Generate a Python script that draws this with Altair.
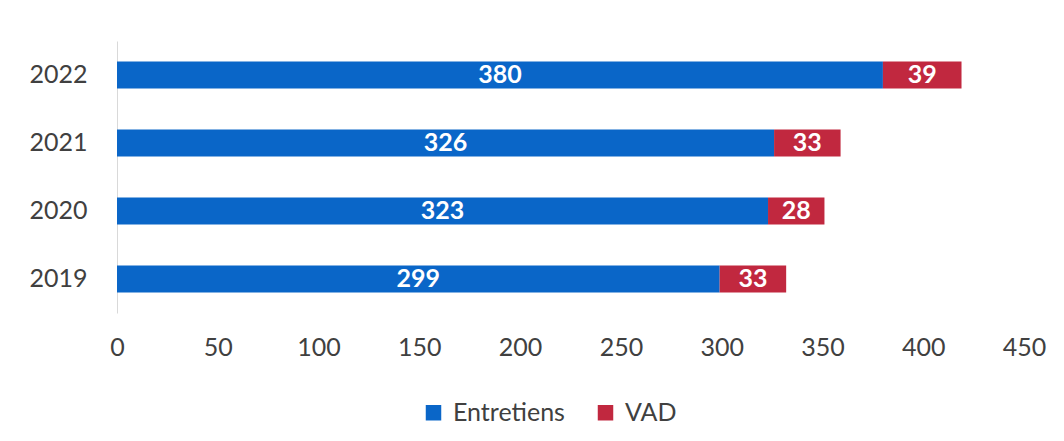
import altair as alt
import pandas as pd

years = ["2022", "2021", "2020", "2019"]
entretiens = [380, 326, 323, 299]
vad = [39, 33, 28, 33]
series = ["Entretiens", "VAD"]
colors = ["#0a66c8", "#c1283f"]

rows = []
for y, e, v in zip(years, entretiens, vad):
    rows.append({"year": y, "serie": "Entretiens", "value": e, "ord": 0})
    rows.append({"year": y, "serie": "VAD", "value": v, "ord": 1})
df = pd.DataFrame(rows)

FONT = "Lato"
FS = 25

base = alt.Chart(df).transform_stack(
    stack="value", groupby=["year"], as_=["x0", "x1"],
    sort=[alt.SortField("ord", order="ascending")]
).transform_calculate(mid="(datum.x0 + datum.x1) / 2")

yenc = alt.Y("year:N", sort=years, title=None,
             scale=alt.Scale(paddingInner=0.6, paddingOuter=0.3),
             axis=alt.Axis(labelFont=FONT, labelFontSize=FS, labelColor="#404040",
                           ticks=False, labelPadding=30, domainColor="#d9d9d9",
                           domainWidth=1))

bars = base.mark_bar().encode(
    x=alt.X("x0:Q", title=None,
            scale=alt.Scale(domain=[0, 450], nice=False),
            axis=alt.Axis(values=list(range(0, 451, 50)), labelFont=FONT,
                          labelFontSize=FS, labelColor="#404040", grid=False,
                          domain=False, ticks=False, labelPadding=22,
                          labelFlush=False)),
    x2="x1:Q",
    y=yenc,
    color=alt.Color("serie:N", scale=alt.Scale(domain=series, range=colors),
                    legend=alt.Legend(title=None, orient="none", direction="horizontal",
                                      legendX=304, legendY=359, symbolType="square",
                                      symbolSize=240, symbolStrokeWidth=0,
                                      labelFont=FONT, labelFontSize=FS,
                                      labelColor="#404040", columnPadding=28,
                                      labelOffset=7)),
)

labels = base.mark_text(font=FONT, fontSize=FS, fontWeight="bold", color="white",
                        baseline="middle", align="center").encode(
    x="mid:Q",
    y=alt.Y("year:N", sort=years),
    text="value:Q",
)

chart = alt.layer(bars, labels).properties(
    width=907, height=272,
    autosize=alt.AutoSizeParams(type="none"),
    padding={"left": 109, "top": 33, "right": 32, "bottom": 120},
    background="white",
).configure_view(strokeWidth=0, stroke="transparent")

chart.save("out.html", embed_options={"renderer": "svg", "actions": False})
